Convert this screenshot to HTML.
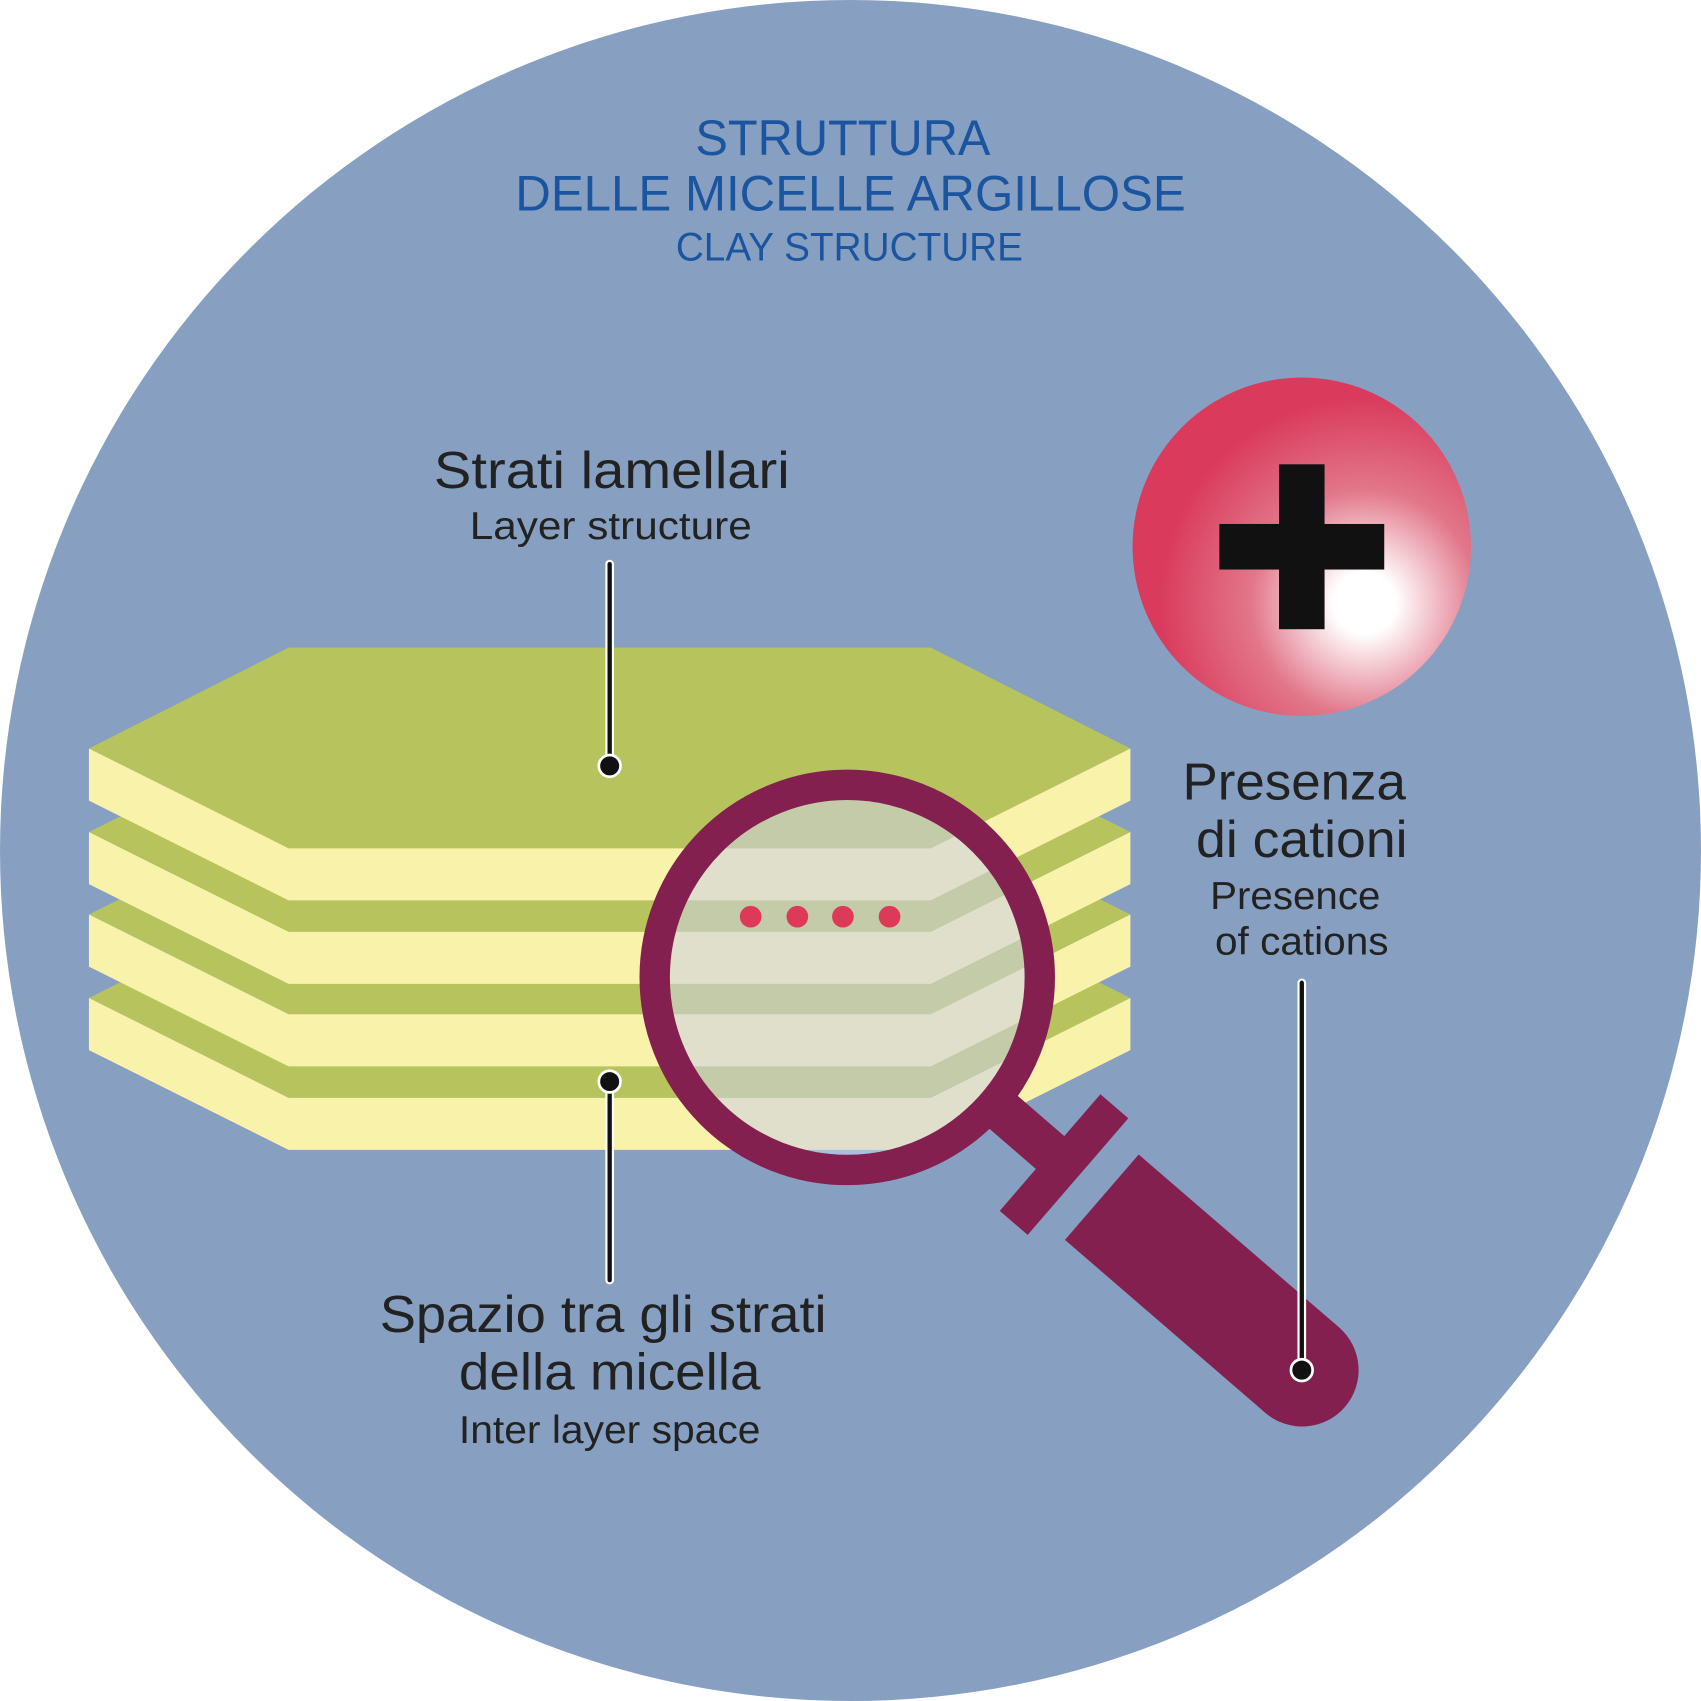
<!DOCTYPE html>
<html><head><meta charset="utf-8">
<style>html,body{margin:0;padding:0;background:#fff}svg{display:block}</style>
</head><body>
<svg width="1701" height="1701" viewBox="0 0 1568 1568" xmlns="http://www.w3.org/2000/svg">
<defs>
<radialGradient id="rg" cx="1258" cy="556" r="190" gradientUnits="userSpaceOnUse">
<stop offset="0" stop-color="#ffffff"/>
<stop offset="0.15" stop-color="#ffffff"/>
<stop offset="0.55" stop-color="#e2778a"/>
<stop offset="1" stop-color="#da3a5c"/>
</radialGradient>
<clipPath id="lens"><circle cx="781" cy="901" r="164"/></clipPath>
</defs>
<circle cx="784" cy="784" r="784" fill="#87a0c2"/>

<g id="stack">
<polygon points="82,920 266,828 858,828 1042,920 858,1012 266,1012" fill="#b7c35c"/>
<polygon points="82,920 266,1012 858,1012 1042,920 1042,968 858,1060 266,1060 82,968" fill="#f8f2aa"/>
<polygon points="82,843 266,751 858,751 1042,843 858,935 266,935" fill="#b7c35c"/>
<polygon points="82,843 266,935 858,935 1042,843 1042,891 858,983 266,983 82,891" fill="#f8f2aa"/>
<polygon points="82,767 266,675 858,675 1042,767 858,859 266,859" fill="#b7c35c"/>
<polygon points="82,767 266,859 858,859 1042,767 1042,815 858,907 266,907 82,815" fill="#f8f2aa"/>
<polygon points="82,690 266,597 858,597 1042,690 858,782 266,782" fill="#b7c35c"/>
<polygon points="82,690 266,782 858,782 1042,690 1042,738 858,830 266,830 82,738" fill="#f8f2aa"/>
</g>

<g clip-path="url(#lens)">
<rect x="600" y="720" width="400" height="400" fill="#a9bfe0"/>
<polygon points="82,920 266,828 858,828 1042,920 858,1012 266,1012" fill="#c4cba8"/>
<polygon points="82,920 266,1012 858,1012 1042,920 1042,968 858,1060 266,1060 82,968" fill="#dfdfcc"/>
<polygon points="82,843 266,751 858,751 1042,843 858,935 266,935" fill="#c4cba8"/>
<polygon points="82,843 266,935 858,935 1042,843 1042,891 858,983 266,983 82,891" fill="#dfdfcc"/>
<polygon points="82,767 266,675 858,675 1042,767 858,859 266,859" fill="#c4cba8"/>
<polygon points="82,767 266,859 858,859 1042,767 1042,815 858,907 266,907 82,815" fill="#dfdfcc"/>
<polygon points="82,690 266,597 858,597 1042,690 858,782 266,782" fill="#c4cba8"/>
<polygon points="82,690 266,782 858,782 1042,690 1042,738 858,830 266,830 82,738" fill="#dfdfcc"/>
<g fill="#dc3a58"><circle cx="692" cy="845" r="10"/><circle cx="735" cy="845" r="10"/><circle cx="777" cy="845" r="10"/><circle cx="820" cy="845" r="10"/></g>
</g>

<circle cx="781" cy="901" r="177.5" fill="none" stroke="#83204f" stroke-width="28"/>
<g transform="translate(781,901) rotate(40.8)" fill="#83204f">
<rect x="185" y="-20" width="70" height="40"/>
<rect x="247" y="-71" width="34" height="142"/>
<rect x="310" y="-52" width="244" height="104"/>
<circle cx="554" cy="0" r="52"/>
</g>

<circle cx="1200" cy="504" r="156" fill="url(#rg)"/>
<rect x="1179" y="428" width="42" height="152" fill="#111"/>
<rect x="1124" y="483" width="152" height="42" fill="#111"/>

<g stroke-linecap="round">
<line x1="562" y1="520" x2="562" y2="706" stroke="#fff" stroke-width="8"/>
<line x1="562" y1="520" x2="562" y2="706" stroke="#111" stroke-width="4"/>
<circle cx="562" cy="706" r="10" fill="#111" stroke="#fff" stroke-width="2.5"/>
<line x1="562" y1="997" x2="562" y2="1180" stroke="#fff" stroke-width="8"/>
<line x1="562" y1="997" x2="562" y2="1180" stroke="#111" stroke-width="4"/>
<circle cx="562" cy="997" r="10" fill="#111" stroke="#fff" stroke-width="2.5"/>
<line x1="1200" y1="906" x2="1200" y2="1263" stroke="#fff" stroke-width="8"/>
<line x1="1200" y1="906" x2="1200" y2="1263" stroke="#111" stroke-width="4"/>
<circle cx="1200" cy="1263" r="10" fill="#111" stroke="#fff" stroke-width="2.5"/>
</g>

<g font-family="Liberation Sans, sans-serif" fill="#1b55a0" text-anchor="middle">
<text x="777" y="143" font-size="46" textLength="272" lengthAdjust="spacingAndGlyphs">STRUTTURA</text>
<text x="784" y="194" font-size="46" textLength="618" lengthAdjust="spacingAndGlyphs">DELLE MICELLE ARGILLOSE</text>
<text x="783" y="240" font-size="37" textLength="320" lengthAdjust="spacingAndGlyphs">CLAY STRUCTURE</text>
</g>
<g font-family="Liberation Sans, sans-serif" fill="#222" text-anchor="middle">
<text x="564" y="450" font-size="48" textLength="328" lengthAdjust="spacingAndGlyphs">Strati lamellari</text>
<text x="563" y="497" font-size="36" textLength="260" lengthAdjust="spacingAndGlyphs">Layer structure</text>
<text x="1193" y="737" font-size="48" textLength="206" lengthAdjust="spacingAndGlyphs">Presenza</text>
<text x="1200" y="790" font-size="48" textLength="195" lengthAdjust="spacingAndGlyphs">di cationi</text>
<text x="1194" y="838" font-size="36" textLength="157" lengthAdjust="spacingAndGlyphs">Presence</text>
<text x="1200" y="880" font-size="36" textLength="160" lengthAdjust="spacingAndGlyphs">of cations</text>
<text x="556" y="1228" font-size="48" textLength="412" lengthAdjust="spacingAndGlyphs">Spazio tra gli strati</text>
<text x="562" y="1281" font-size="48" textLength="278" lengthAdjust="spacingAndGlyphs">della micella</text>
<text x="562" y="1330" font-size="36" textLength="278" lengthAdjust="spacingAndGlyphs">Inter layer space</text>
</g>
</svg>
</body></html>
